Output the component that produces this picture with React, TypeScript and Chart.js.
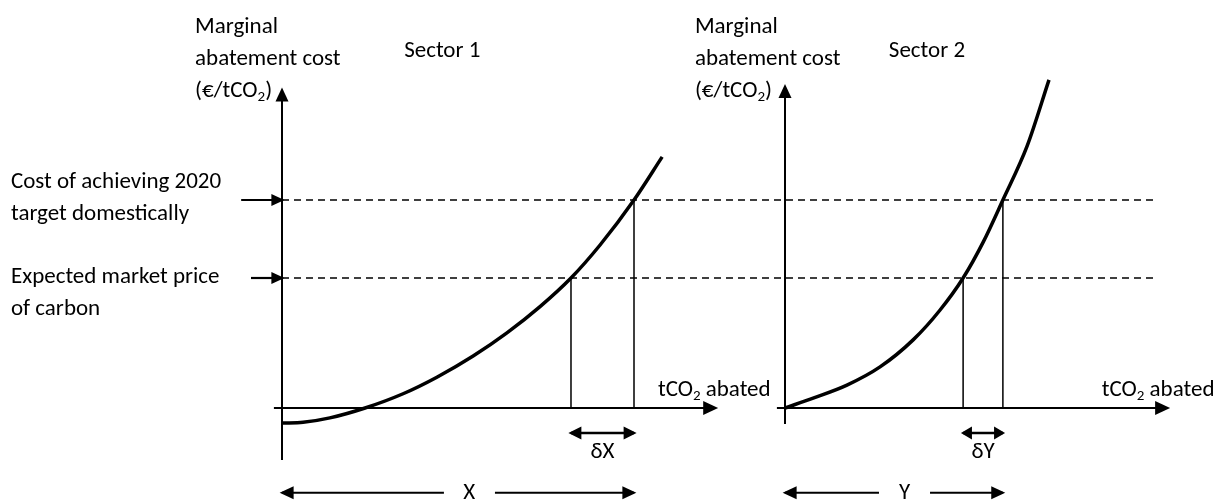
import React, { useEffect, useRef } from "react";
import { Chart, registerables } from "chart.js";

Chart.register(...registerables);

// ---------------- Data (abstract units: x = tCO2 abated, y = €/tCO2) ----------------
const domesticCost = 40; // cost of achieving 2020 target domestically
const marketPrice = 25; // expected market price of carbon

const sector1Abatement = [0, 6, 13.6, 23.6, 34.4, 44, 54.3, 63.9, 73.3, 82.1, 90.3, 100, 108];
const sector1Cost = [-2.9, -2.75, -1.9, 0, 2.74, 5.92, 10.0, 14.45, 19.5, 25, 31.3, 40, 48.3];

const sector2Abatement = [0, 8, 17.6, 27, 36.4, 44, 50.6, 56.3, 61.9, 68.8, 75];
const sector2Cost = [0, 1.9, 4.4, 7.9, 13.1, 18.8, 25, 31.9, 40, 50.4, 63.1];

const sector1AtMarket = 82.1; // abatement where MAC = market price (sector 1)
const sector1AtDomestic = 100; // X
const sector2AtMarket = 50.6; // abatement where MAC = market price (sector 2)
const sector2AtDomestic = 61.9; // Y

// text
const costAxisTitle = ["Marginal", "abatement cost", "(€/tCO₂)"];
const quantityAxisTitle = "tCO₂ abated";
const sectorNames = ["Sector 1", "Sector 2"];
const domesticLabel = ["Cost of achieving 2020", "target domestically"];
const marketLabel = ["Expected market price", "of carbon"];
const deltaLabels = ["δX", "δY"];
const totalLabels = ["X", "Y"];

// ---------------- Layout (pixels) ----------------
const W = 1221;
const H = 504;
const X_PX = 3.52; // px per abatement unit
const Y_PX = 5.2; // px per cost unit
const ORIGIN1_PX = 282;
const ORIGIN2_PX = 785;
const AXIS_Y_PX = 408;
const LINE_PX = 32;

const FONT_FAMILY = "Carlito, Lato, 'Noto Sans', sans-serif";
const FONT_SIZE = 23;

const pts = (xs: number[], ys: number[]) => xs.map((x, i) => ({ x, y: ys[i] }));

function drawRich(ctx: CanvasRenderingContext2D, text: string, x: number, y: number, align: "left" | "center", size: number) {
  const parts = text.split("₂");
  const mainFont = `${size}px ${FONT_FAMILY}`;
  const subFont = `${Math.round(size * 0.65)}px ${FONT_FAMILY}`;
  ctx.textBaseline = "middle";
  ctx.textAlign = "left";
  let total = 0;
  parts.forEach((p, i) => {
    ctx.font = mainFont;
    total += ctx.measureText(p).width;
    if (i < parts.length - 1) {
      ctx.font = subFont;
      total += ctx.measureText("2").width;
    }
  });
  let cx = align === "center" ? x - total / 2 : x;
  parts.forEach((p, i) => {
    ctx.font = mainFont;
    ctx.fillText(p, cx, y);
    cx += ctx.measureText(p).width;
    if (i < parts.length - 1) {
      ctx.font = subFont;
      ctx.fillText("2", cx, y + size * 0.3);
      cx += ctx.measureText("2").width;
    }
  });
}

function drawHead(ctx: CanvasRenderingContext2D, from: any, to: any, len: number, half: number, lw: number) {
  const ang = Math.atan2(to.y - from.y, to.x - from.x);
  const c = Math.cos(ang);
  const s = Math.sin(ang);
  const extra = (lw * len) / (2 * half);
  const tx = to.x + c * extra;
  const ty = to.y + s * extra;
  const bx = tx - c * len;
  const by = ty - s * len;
  ctx.save();
  ctx.fillStyle = "#000";
  ctx.beginPath();
  ctx.moveTo(tx, ty);
  ctx.lineTo(bx - s * half, by + c * half);
  ctx.lineTo(bx + s * half, by - c * half);
  ctx.closePath();
  ctx.fill();
  ctx.restore();
}

const arrowPlugin = {
  id: "arrowHeads",
  afterDatasetsDraw(chart: any) {
    const ctx = chart.ctx;
    chart.data.datasets.forEach((ds: any, i: number) => {
      const meta = chart.getDatasetMeta(i);
      const p = meta.data;
      if (!p || p.length < 2) return;
      const len = ds.headLen || 14;
      const half = ds.headHalf || 6.5;
      if (ds.arrowEnd) drawHead(ctx, p[p.length - 2], p[p.length - 1], len, half, ds.borderWidth);
      if (ds.arrowStart) drawHead(ctx, p[1], p[0], len, half, ds.borderWidth);
    });
  },
};

const textPlugin = {
  id: "diagramText",
  afterDraw(chart: any) {
    const ctx = chart.ctx;
    const s1 = chart.scales.x1;
    const s2 = chart.scales.x2;
    const y = chart.scales.y;
    ctx.save();
    ctx.fillStyle = "#000";
    const step = LINE_PX / Y_PX;
    const put = (sc: any, t: string, xv: number, yv: number, align: "left" | "center") =>
      drawRich(ctx, t, sc.getPixelForValue(xv), y.getPixelForValue(yv), align, FONT_SIZE);

    // cost axis titles
    [s1, s2].forEach((sc, k) => {
      const left = k === 0 ? -24.7 : -25.6;
      costAxisTitle.forEach((t, i) => put(sc, t, left, 73.3 - i * step, "left"));
    });
    // sector names
    put(s1, sectorNames[0], 34.7, 68.6, "left");
    put(s2, sectorNames[1], 29.5, 68.6, "left");
    // quantity axis titles
    put(s1, quantityAxisTitle, 106.8, 3.5, "left");
    put(s2, quantityAxisTitle, 90, 3.5, "left");
    // left side labels
    domesticLabel.forEach((t, i) => put(s1, t, -77, domesticCost + 3.5 - i * step, "left"));
    marketLabel.forEach((t, i) => put(s1, t, -77, marketPrice + 0.2 - i * step, "left"));
    // delta labels
    put(s1, deltaLabels[0], (sector1AtMarket + sector1AtDomestic) / 2, -8.6, "center");
    put(s2, deltaLabels[1], (sector2AtMarket + sector2AtDomestic) / 2, -8.6, "center");
    // totals
    put(s1, totalLabels[0], 53.2, -16.3, "center");
    put(s2, totalLabels[1], 34, -16.3, "center");
    ctx.restore();
  },
};

export default function App() {
  const ref = useRef<HTMLCanvasElement | null>(null);

  useEffect(() => {
    document.body.style.margin = "0";
    const canvas = ref.current;
    if (!canvas) return;

    const black = "#000";
    const base = { borderColor: black, pointRadius: 0, fill: false, tension: 0 } as any;

    const gapY = -16.3;
    const deltaY = -4.8;

    const datasets: any[] = [
      // curves
      { ...base, xAxisID: "x1", data: pts(sector1Abatement, sector1Cost), borderWidth: 3.5, cubicInterpolationMode: "monotone" },
      { ...base, xAxisID: "x2", data: pts(sector2Abatement, sector2Cost), borderWidth: 3.5, cubicInterpolationMode: "monotone" },
      // axes sector 1
      { ...base, xAxisID: "x1", data: [{ x: -2.3, y: 0 }, { x: 123.3, y: 0 }], borderWidth: 2, arrowEnd: true, headLen: 15, headHalf: 7 },
      { ...base, xAxisID: "x1", data: [{ x: 0, y: -10 }, { x: 0, y: 61.2 }], borderWidth: 2, arrowEnd: true, headLen: 14, headHalf: 6.5 },
      // axes sector 2
      { ...base, xAxisID: "x2", data: [{ x: -2.3, y: 0 }, { x: 108.8, y: 0 }], borderWidth: 2, arrowEnd: true, headLen: 15, headHalf: 7 },
      { ...base, xAxisID: "x2", data: [{ x: 0, y: -3.1 }, { x: 0, y: 61.9 }], borderWidth: 2, arrowEnd: true, headLen: 14, headHalf: 6.5 },
      // dashed price lines
      { ...base, xAxisID: "x1", data: [{ x: 0, y: domesticCost }, { x: 248, y: domesticCost }], borderWidth: 1.3, borderDash: [7, 5] },
      { ...base, xAxisID: "x1", data: [{ x: 0, y: marketPrice }, { x: 248, y: marketPrice }], borderWidth: 1.3, borderDash: [7, 5] },
      // pointer arrows
      { ...base, xAxisID: "x1", data: [{ x: -11.6, y: domesticCost }, { x: 0, y: domesticCost }], borderWidth: 2.2, arrowEnd: true, headLen: 13, headHalf: 6 },
      { ...base, xAxisID: "x1", data: [{ x: -8.8, y: marketPrice }, { x: 0, y: marketPrice }], borderWidth: 2.2, arrowEnd: true, headLen: 13, headHalf: 6 },
      // verticals
      { ...base, xAxisID: "x1", data: [{ x: sector1AtMarket, y: marketPrice }, { x: sector1AtMarket, y: 0 }], borderWidth: 1.5 },
      { ...base, xAxisID: "x1", data: [{ x: sector1AtDomestic, y: domesticCost }, { x: sector1AtDomestic, y: 0 }], borderWidth: 1.5 },
      { ...base, xAxisID: "x2", data: [{ x: sector2AtMarket, y: marketPrice }, { x: sector2AtMarket, y: 0 }], borderWidth: 1.5 },
      { ...base, xAxisID: "x2", data: [{ x: sector2AtDomestic, y: domesticCost }, { x: sector2AtDomestic, y: 0 }], borderWidth: 1.5 },
      // delta arrows
      { ...base, xAxisID: "x1", data: [{ x: sector1AtMarket, y: deltaY }, { x: sector1AtDomestic, y: deltaY }], borderWidth: 2.6, arrowStart: true, arrowEnd: true, headLen: 13, headHalf: 6.5 },
      { ...base, xAxisID: "x2", data: [{ x: sector2AtMarket, y: deltaY }, { x: sector2AtDomestic, y: deltaY }], borderWidth: 2.6, arrowStart: true, arrowEnd: true, headLen: 11, headHalf: 6.5 },
      // total arrows (split around label)
      { ...base, xAxisID: "x1", data: [{ x: 0, y: gapY }, { x: 46, y: gapY }], borderWidth: 2.2, arrowStart: true, headLen: 14, headHalf: 6.5 },
      { ...base, xAxisID: "x1", data: [{ x: 60.5, y: gapY }, { x: sector1AtDomestic, y: gapY }], borderWidth: 2.2, arrowEnd: true, headLen: 14, headHalf: 6.5 },
      { ...base, xAxisID: "x2", data: [{ x: 0, y: gapY }, { x: 26.7, y: gapY }], borderWidth: 2.2, arrowStart: true, headLen: 14, headHalf: 6.5 },
      { ...base, xAxisID: "x2", data: [{ x: 41.2, y: gapY }, { x: sector2AtDomestic, y: gapY }], borderWidth: 2.2, arrowEnd: true, headLen: 14, headHalf: 6.5 },
    ];

    const chart = new Chart(canvas, {
      type: "line",
      data: { datasets },
      options: {
        responsive: false,
        animation: false,
        events: [],
        layout: { padding: 0 },
        plugins: { legend: { display: false }, tooltip: { enabled: false } },
        scales: {
          x1: { type: "linear", display: false, min: -ORIGIN1_PX / X_PX, max: (W - ORIGIN1_PX) / X_PX },
          x2: { type: "linear", display: false, min: -ORIGIN2_PX / X_PX, max: (W - ORIGIN2_PX) / X_PX },
          y: { type: "linear", display: false, min: -(H - AXIS_Y_PX) / Y_PX, max: AXIS_Y_PX / Y_PX },
        },
      },
      plugins: [arrowPlugin, textPlugin],
    } as any);

    return () => chart.destroy();
  }, []);

  return (
    <div style={{ position: "fixed", left: 0, top: 0, width: W, height: H, background: "#fff" }}>
      <canvas ref={ref} width={W} height={H} style={{ display: "block" }} />
    </div>
  );
}
